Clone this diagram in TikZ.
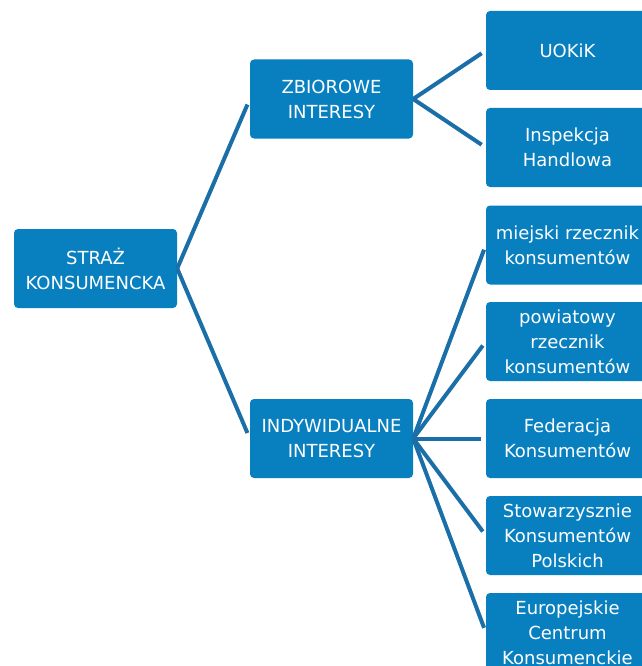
\documentclass[tikz,border=0pt]{standalone}
\usepackage{fontspec}
\setmainfont{DejaVu Sans}
\usepackage{tikz}
\usetikzlibrary{calc}
\definecolor{boxblue}{RGB}{8,128,192}
\definecolor{lineblue}{RGB}{27,111,168}

\begin{document}
\begin{tikzpicture}[x=1pt, y=-1pt,
	box/.style={rectangle, rounded corners=4pt, fill=boxblue, text=white, align=center, minimum width=163pt, minimum height=79pt, inner sep=0pt, font=\fontsize{18}{25}\selectfont},
	branch/.style={draw=lineblue, line width=4pt, shorten >=5pt}]
	\useasboundingbox (0,0) rectangle (641,666);
	\node[box] (straz) at (95.5,268.5) {STRAŻ\\KONSUMENCKA};
	\node[box] (zbiorowe) at (331.5,99) {ZBIOROWE\\INTERESY};
	\node[box] (indyw) at (331.5,438.5) {INDYWIDUALNE\\INTERESY};
		\node[box] (uokik) at (567.5,50.5) {UOKiK};
		\node[box] (inspekcja) at (567.5,147.5) {Inspekcja\\Handlowa};
		\node[box] (miejski) at (567.5,245) {miejski rzecznik\\konsumentów};
		\node[box] (powiatowy) at (567.5,341.5) {powiatowy\\rzecznik\\konsumentów};
		\node[box] (federacja) at (567.5,438.5) {Federacja\\Konsumentów};
		\node[box] (stowarz) at (567.5,535.5) {Stowarzysznie\\Konsumentów\\Polskich};
		\node[box] (europ) at (567.5,632.5) {Europejskie\\Centrum\\Konsumenckie};
	\draw[branch, shorten >=6pt] (straz.east) -- (zbiorowe.west);
	\draw[branch, shorten >=6pt] (straz.east) -- (indyw.west);
	\draw[branch] (zbiorowe.east) -- (uokik.west);
	\draw[branch] (zbiorowe.east) -- (inspekcja.west);
	\draw[branch] (indyw.east) -- (miejski.west);
	\draw[branch] (indyw.east) -- (powiatowy.west);
	\draw[branch] (indyw.east) -- (federacja.west);
	\draw[branch] (indyw.east) -- (stowarz.west);
	\draw[branch] (indyw.east) -- (europ.west);
\end{tikzpicture}
\end{document}
